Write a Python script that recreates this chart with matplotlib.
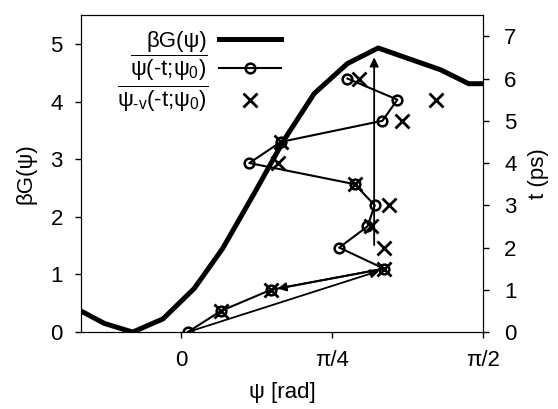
import matplotlib
matplotlib.use("Agg")
import numpy as np
import matplotlib.pyplot as plt

# free energy curve beta*G(psi)
psi_G = [-0.514, -0.401, -0.254, -0.096, 0.067, 0.214, 0.379, 0.533, 0.691, 0.864, 1.024, 1.350, 1.495, 1.571]
G = [0.35, 0.15, 0.0, 0.23, 0.76, 1.45, 2.41, 3.33, 4.14, 4.66, 4.93, 4.55, 4.31, 4.31]

# trajectory psi(-t;psi0), t in ps
t_traj = [0, 0.5, 1.0, 1.5, 2.0, 2.5, 3.0, 3.5, 4.0, 4.5, 5.0, 5.5, 6.0]
psi_traj = [0.032, 0.205, 0.465, 1.055, 0.821, 0.968, 1.006, 0.902, 0.353, 0.517, 1.046, 1.124, 0.864]

# psi_-v(-t;psi0)
t_v = [0.5, 1.0, 1.5, 2.0, 2.5, 3.0, 3.5, 4.0, 4.5, 5.0, 5.5, 6.0]
psi_v = [0.205, 0.465, 1.055, 1.055, 0.985, 1.081, 0.902, 0.500, 0.517, 1.15, 1.324, 0.925]

plt.rcParams['font.family'] = ['Liberation Sans', 'DejaVu Sans']
plt.rcParams['mathtext.fontset'] = 'custom'
plt.rcParams['mathtext.rm'] = 'Liberation Sans'
plt.rcParams['mathtext.it'] = 'Liberation Sans'
plt.rcParams['mathtext.bf'] = 'Liberation Sans'
plt.rcParams['font.size'] = 16

fig, ax = plt.subplots(figsize=(5.58, 4.09), dpi=100)
fig.subplots_adjust(left=0.145, right=0.866, bottom=0.188, top=0.963)
ax2 = ax.twinx()

lG, = ax.plot(psi_G, G, color='black', lw=3.6)
ltr, = ax2.plot(psi_traj, t_traj, color='black', lw=1.5, marker='o', ms=7,
                mfc='none', mec='black', mew=1.8)
lv, = ax2.plot(psi_v, t_v, ls='none', marker='x', ms=10, mew=2, color='black')

arr = dict(arrowstyle='-|>', color='black', lw=1.3, shrinkA=0, shrinkB=0, mutation_scale=13)
ax2.annotate('', xy=(1.03, 1.45), xytext=(psi_traj[0], 0), arrowprops=arr)
ax2.annotate('', xy=(0.50, 1.03), xytext=(1.05, 1.5), arrowprops=arr)
ax2.annotate('', xy=(1.003, 6.5), xytext=(1.003, 2.06), arrowprops=arr)

ax.set_xlim(-np.pi / 6, np.pi / 2)
ax.set_ylim(0, 5.5)
ax2.set_ylim(0, 7.5)
ax.set_xticks([0, np.pi / 4, np.pi / 2])
ax.set_xticklabels(['0', 'π/4', 'π/2'])
ax.set_yticks(range(6))
ax2.set_yticks(range(8))
ax.tick_params(direction='out', length=4, width=1, pad=9)
ax2.tick_params(direction='out', length=4, width=1, pad=11)

ax.set_xlabel('ψ [rad]', labelpad=8)
ax.set_ylabel('βG(ψ)', labelpad=10)
ax2.set_ylabel('t (ps)', labelpad=8)

labels = ['βG(ψ)',
          r'$\overline{\psi(\text{-}t\text{;}\psi_0)}$',
          r'$\overline{\psi_{\text{-}v}(\text{-}t\text{;}\psi_0)}$']
ax2.legend([lG, ltr, lv], labels, loc='upper left', bbox_to_anchor=(0.05, 1.0),
           frameon=False, markerfirst=False, handlelength=2.8, handletextpad=0.5,
           labelspacing=0.05, borderaxespad=0.3)

fig.savefig('out.png', dpi=100)
